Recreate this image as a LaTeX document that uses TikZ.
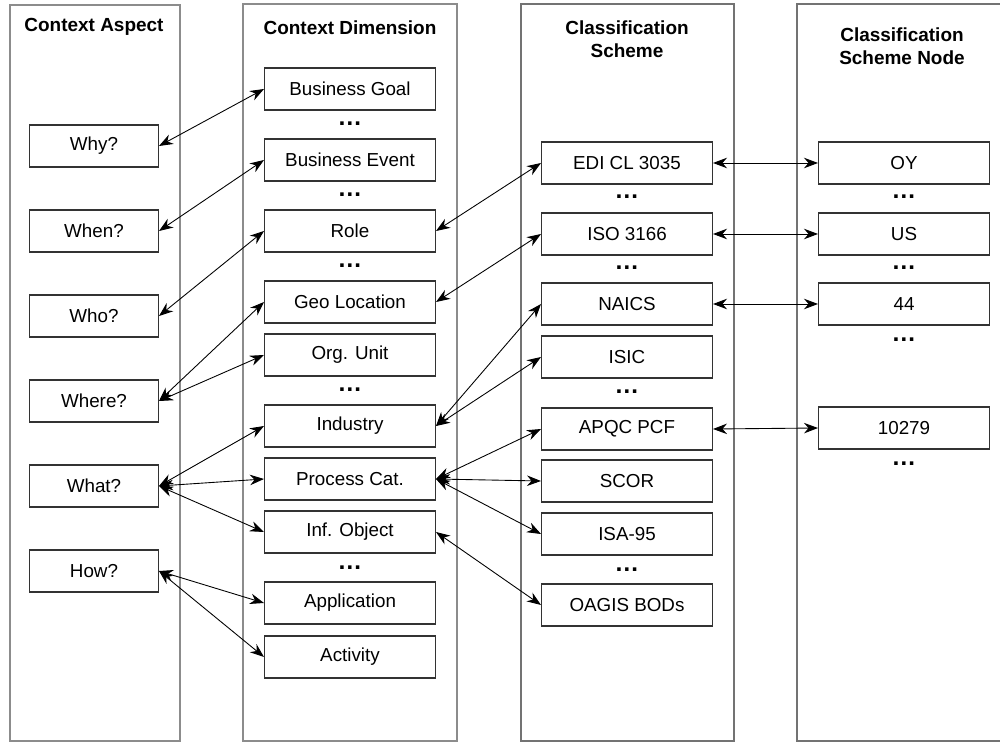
\documentclass[tikz,border=0pt]{standalone}
\usepackage{fontspec}
\setmainfont{Liberation Sans}
\usetikzlibrary{arrows.meta}
\tikzset{
	colframe/.style={line width=0.6pt, draw=black!45},
	item/.style={draw=black!80, line width=0.6pt, minimum width=3.42cm, minimum height=0.84cm, inner sep=0pt, font=\fontsize{10.7}{12.8}\selectfont},
	askitem/.style={item, minimum width=2.58cm},
	hdr/.style={font=\fontsize{10.8}{13}\selectfont\bfseries, align=center},
	more/.style={font=\fontsize{14}{15}\selectfont\bfseries, inner sep=0pt},
	link/.style={{Stealth[length=2.8mm,width=2.1mm]}-{Stealth[length=2.8mm,width=2.1mm]}, line width=0.5pt}
}
\begin{document}
\begin{tikzpicture}[x=0.02cm, y=-0.02cm]
			%%%%% START %%%%%
			\useasboundingbox (0, 0) rectangle (1000, 742);
			
			% columns
			\draw[colframe] (10, 5) rectangle (180, 741);
			\draw[colframe] (243, 4) rectangle (457, 741);
			\draw[colframe, draw=black!55] (521, 4) rectangle (734, 741);
			\draw[colframe, draw=black!55] (1006, 4) -- (797, 4) -- (797, 741) -- (1006, 741);
			
			\node[hdr] (hAspect) at (94, 27) {Context Aspect};
			\node[hdr] (hDim) at (350, 28) {Context Dimension};
			\node[hdr] (hScheme) at (627, 39) {Classification\\Scheme};
			\node[hdr] (hNode) at (902, 46) {Classification\\Scheme Node};
			
			% context aspects
			\node[askitem] (why) at (94, 146) {Why?};
			\node[askitem] (when) at (94, 231) {When?};
			\node[askitem] (who) at (94, 316) {Who?};
			\node[askitem] (where) at (94, 401) {Where?};
			\node[askitem] (what) at (94, 486) {What?};
			\node[askitem] (how) at (94, 571) {How?};
			
			% context dimensions
			\node[item] (goal) at (350, 89) {Business Goal};
			\node[item] (event) at (350, 160) {Business Event};
			\node[item] (role) at (350, 231) {Role};
			\node[item] (geo) at (350, 302) {Geo Location};
			\node[item] (org) at (350, 355) {Org. Unit};
			\node[item] (ind) at (350, 426) {Industry};
			\node[item] (proc) at (350, 479) {Process Cat.};
			\node[item] (inf) at (350, 532) {Inf. Object};
			\node[item] (app) at (350, 603) {Application};
			\node[item] (act) at (350, 657) {Activity};
			\node[more] (d1) at (350, 124) {…};
			\node[more] (d2) at (350, 195) {…};
			\node[more] (d3) at (350, 266) {…};
			\node[more] (d4) at (350, 390) {…};
			\node[more] (d5) at (350, 568) {…};
			
			% classification schemes
			\node[item] (edi) at (627, 163) {EDI CL 3035};
			\node[item] (iso) at (627, 234) {ISO 3166};
			\node[item] (naics) at (627, 304) {NAICS};
			\node[item] (isic) at (627, 357) {ISIC};
			\node[item] (apqc) at (627, 429) {APQC PCF};
			\node[item] (scor) at (627, 481) {SCOR};
			\node[item] (isa) at (627, 534) {ISA-95};
			\node[item] (oagis) at (627, 605) {OAGIS BODs};
			\node[more] (s1) at (627, 197) {…};
			\node[more] (s2) at (627, 268) {…};
			\node[more] (s3) at (627, 392) {…};
			\node[more] (s4) at (627, 570) {…};
			
			% scheme nodes
			\node[item] (oy) at (904, 163) {OY};
			\node[item] (us) at (904, 234) {US};
			\node[item] (n44) at (904, 304) {44};
			\node[item] (n10279) at (904, 428) {10279};
			\node[more] (c1) at (904, 197) {…};
			\node[more] (c2) at (904, 268) {…};
			\node[more] (c3) at (904, 340) {…};
			\node[more] (c4) at (904, 464) {…};
			
			% aspect <-> dimension
			\draw[link] (why.east) -- (goal.west);
			\draw[link] (when.east) -- (event.west);
			\draw[link] (who.east) -- (role.west);
			\draw[link] (where.east) -- (geo.west);
			\draw[link] (where.east) -- (org.west);
			\draw[link] (what.east) -- (ind.west);
			\draw[link] (what.east) -- (proc.west);
			\draw[link] (what.east) -- (inf.west);
			\draw[link] (how.east) -- (app.west);
			\draw[link] (how.east) -- (act.west);
			
			% dimension <-> scheme
			\draw[link] (role.east) -- (edi.west);
			\draw[link] (geo.east) -- (iso.west);
			\draw[link] (ind.east) -- (naics.west);
			\draw[link] (ind.east) -- (isic.west);
			\draw[link] (proc.east) -- (apqc.west);
			\draw[link] (proc.east) -- (scor.west);
			\draw[link] (proc.east) -- (isa.west);
			\draw[link] (inf.east) -- (oagis.west);
			
			% scheme <-> scheme node
			\draw[link] (edi.east) -- (oy.west);
			\draw[link] (iso.east) -- (us.west);
			\draw[link] (naics.east) -- (n44.west);
			\draw[link] (apqc.east) -- (n10279.west);
			%%%%% END %%%%%
\end{tikzpicture}
\end{document}
